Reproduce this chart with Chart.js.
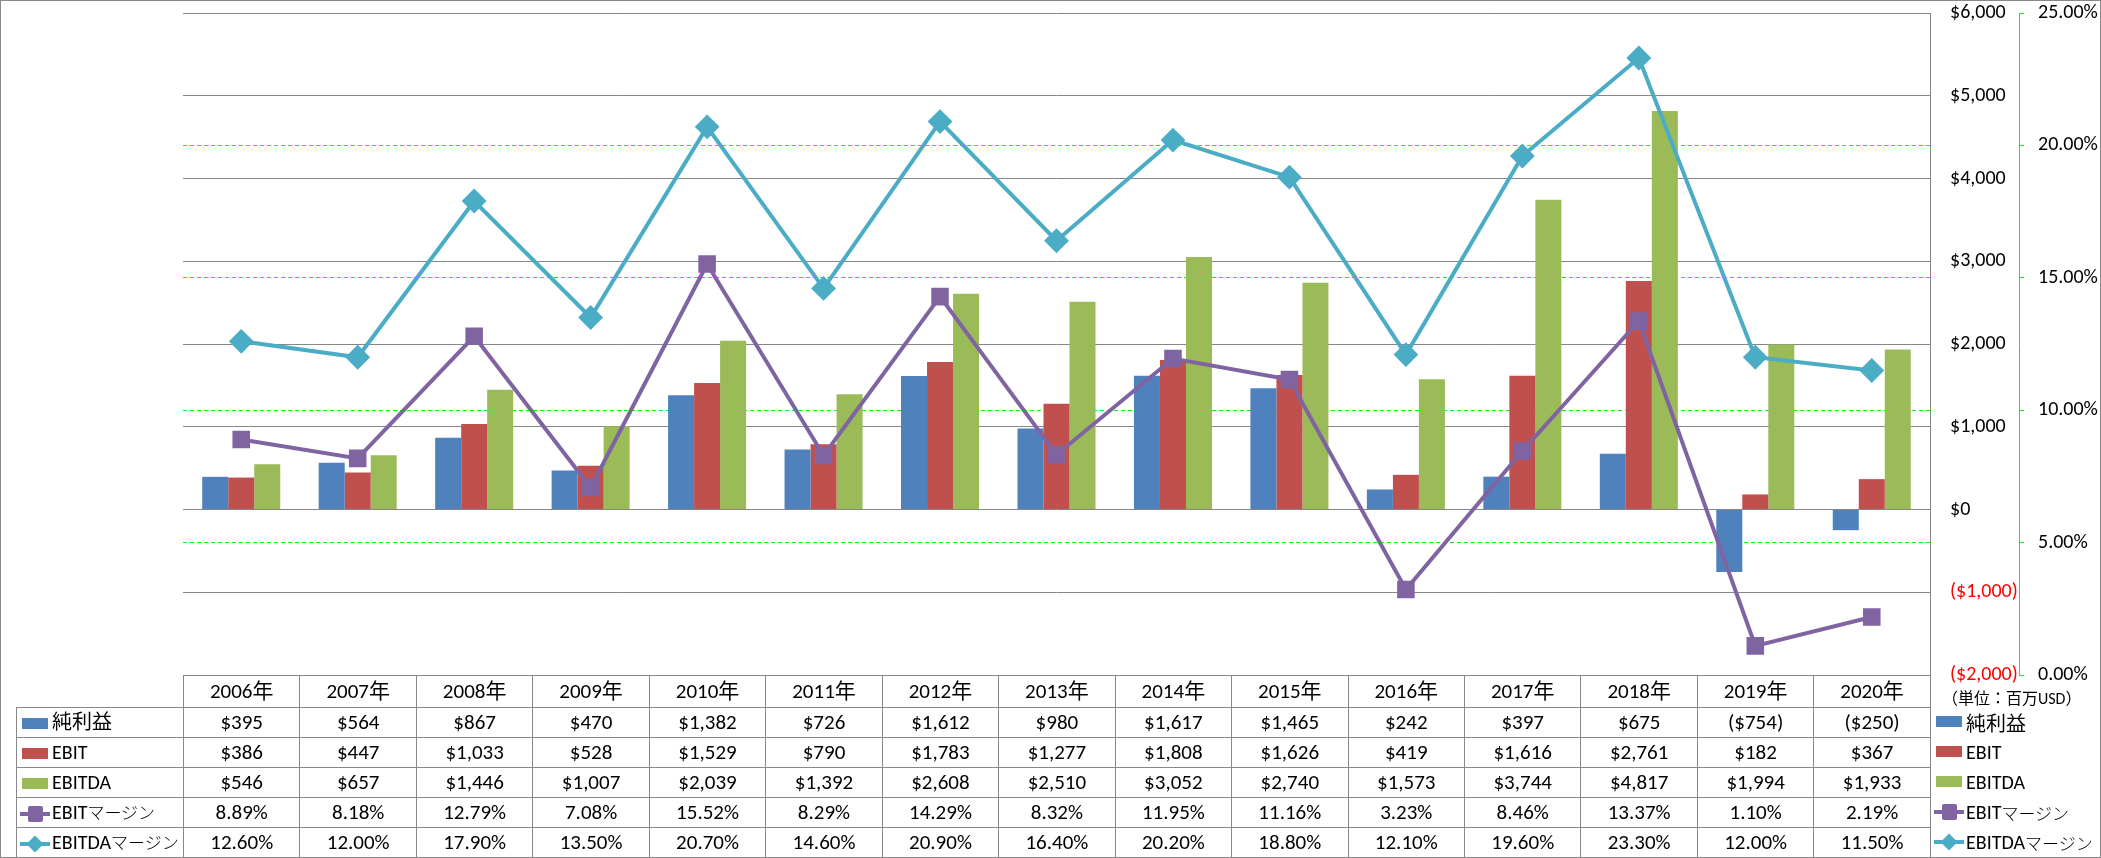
<!DOCTYPE html>
<html lang="ja">
<head>
<meta charset="utf-8">
<title>純利益・EBIT・EBITDA</title>
<script src="https://cdn.jsdelivr.net/npm/chart.js@4"></script>
<style>
  html, body { margin: 0; padding: 0; background: #fff; }
  #wrap { position: relative; width: 2101px; height: 858px; overflow: hidden;
          font-family: Carlito, Lato, "Noto Sans CJK JP", sans-serif; color: #000; }
  #chart { position: absolute; left: 0; top: 0; }
  #frame { position: absolute; left: 0; top: 0; width: 2101px; height: 858px;
           box-sizing: border-box; border: 1px solid #888; pointer-events: none; }
  #tbl { position: absolute; border-collapse: collapse; table-layout: fixed; font-size: 21px; }
  #tbl td { border: 1px solid #888; text-align: center; padding: 0; white-space: nowrap; overflow: hidden; line-height: 1; }
  #tbl td.blank { border-top: none; border-left: none; }
  #tbl td.lbl { text-align: left; padding-left: 3px; font-size: 20px; }
  #legend { position: absolute; font-size: 20px; }
  #legend div { position: absolute; left: 0; white-space: nowrap; display: flex; align-items: center; }
  #unit { position: absolute; font-size: 16px; white-space: nowrap; }
  .kana { font-size: 17px; font-weight: 300; }
  .key { display: inline-block; position: relative; width: 30px; height: 18px; margin-right: 2px; vertical-align: middle; flex: none; }
  .key .bar { position: absolute; left: 2px; top: 3px; width: 26px; height: 11px; }
  .key .ln { position: absolute; left: 0; top: 7px; width: 30px; height: 4px; }
  .key .sq { position: absolute; left: 8px; top: 1px; width: 15px; height: 16px; border-radius: 2px; }
  .key .dm { position: absolute; left: 9px; top: 3px; width: 12px; height: 12px; transform: rotate(45deg); }
</style>
</head>
<body>
<div id="wrap">
  <canvas id="chart" width="2101" height="858"></canvas>
  <table id="tbl"></table>
  <div id="unit">（単位：百万USD）</div>
  <div id="legend"></div>
  <div id="frame"></div>
</div>
<script>
const years = ['2006年', '2007年', '2008年', '2009年', '2010年', '2011年', '2012年', '2013年',
  '2014年', '2015年', '2016年', '2017年', '2018年', '2019年', '2020年'];
const netIncome = [395, 564, 867, 470, 1382, 726, 1612, 980, 1617, 1465, 242, 397, 675, -754, -250];
const ebit = [386, 447, 1033, 528, 1529, 790, 1783, 1277, 1808, 1626, 419, 1616, 2761, 182, 367];
const ebitda = [546, 657, 1446, 1007, 2039, 1392, 2608, 2510, 3052, 2740, 1573, 3744, 4817, 1994, 1933];
const ebitMargin = [8.89, 8.18, 12.79, 7.08, 15.52, 8.29, 14.29, 8.32, 11.95, 11.16, 3.23, 8.46, 13.37, 1.10, 2.19];
const ebitdaMargin = [12.60, 12.00, 17.90, 13.50, 20.70, 14.60, 20.90, 16.40, 20.20, 18.80, 12.10, 19.60, 23.30, 12.00, 11.50];

const usdTicks = { min: -2000, max: 6000, step: 1000 };
const pctTicks = { min: 0, max: 25, step: 5 };

const fmtUsd = v => v < 0 ? '($' + Math.abs(v).toLocaleString('en-US') + ')' : '$' + v.toLocaleString('en-US');
const fmtPct = v => v.toFixed(2) + '%';

const series = [
  { label: '純利益', data: netIncome, kind: 'bar', color: '#4F81BD', fmt: fmtUsd },
  { label: 'EBIT', data: ebit, kind: 'bar', color: '#C0504D', fmt: fmtUsd },
  { label: 'EBITDA', data: ebitda, kind: 'bar', color: '#9BBB59', fmt: fmtUsd },
  { label: 'EBITマージン', data: ebitMargin, kind: 'rect', color: '#8064A2', fmt: fmtPct },
  { label: 'EBITDAマージン', data: ebitdaMargin, kind: 'rectRot', color: '#4BACC6', fmt: fmtPct }
];

Chart.defaults.font.family = 'Carlito, Lato, "Noto Sans CJK JP", sans-serif';
Chart.defaults.font.size = 20;
Chart.defaults.color = '#000';

const datasets = series.map(s => s.kind === 'bar' ? {
  type: 'bar',
  label: s.label,
  data: s.data,
  backgroundColor: s.color,
  yAxisID: 'y',
  order: 2,
  categoryPercentage: 0.67,
  barPercentage: 1.0
} : {
  type: 'line',
  label: s.label,
  data: s.data,
  borderColor: s.color,
  backgroundColor: s.color,
  borderWidth: 4,
  pointStyle: s.kind,
  pointRadius: 11,
  pointBorderWidth: 2,
  pointBorderColor: s.color,
  pointBackgroundColor: s.color,
  yAxisID: 'y1',
  order: 1,
  tension: 0
});

// right-hand axes get fixed widths and no extra label padding above/below the plot
const fixAxis = w => s => { s.width = w; s.paddingTop = 0; s.paddingBottom = 0; };

const chart = new Chart(document.getElementById('chart'), {
  type: 'bar',
  data: { labels: years, datasets },
  options: {
    responsive: false,
    animation: false,
    devicePixelRatio: 1,
    layout: { padding: { left: 183, top: 13, right: 0, bottom: 183 } },
    plugins: { legend: { display: false }, tooltip: { enabled: false } },
    scales: {
      x: { display: false },
      y: {
        position: 'right',
        weight: 0,
        min: usdTicks.min,
        max: usdTicks.max,
        ticks: {
          stepSize: usdTicks.step,
          padding: 20,
          callback: v => fmtUsd(v),
          color: c => c.tick && c.tick.value < 0 ? '#FF0000' : '#000'
        },
        grid: { color: '#868686', lineWidth: 1, drawTicks: false },
        border: { color: '#868686', width: 1 },
        afterFit: fixAxis(89)
      },
      y1: {
        position: 'right',
        weight: 1,
        min: pctTicks.min,
        max: pctTicks.max,
        ticks: { stepSize: pctTicks.step, padding: 14, callback: v => fmtPct(v) },
        grid: {
          drawOnChartArea: true,
          color: c => (c.tick && (c.tick.value === pctTicks.min || c.tick.value === pctTicks.max)) ? 'rgba(0,0,0,0)' : '#00FF00',
          tickColor: '#00FF00',
          tickLength: 5,
          lineWidth: 1,
          borderDash: [5, 3],
          tickBorderDash: [5, 3]
        },
        border: { color: '#00FF00', width: 1, dash: [4, 3] },
        afterFit: fixAxis(82)
      }
    }
  }
});

// data table under the plot, columns taken from the chart's category scale
const area = chart.chartArea;
const colW = (area.right - area.left) / years.length;
const labelW = 167;
const headH = 32;
const rowH = 30;

const labelHtml = t => t.replace(/([\u30A0-\u30FF]+)/g, '<span class="kana">$1</span>');

function keyHtml(s) {
  if (s.kind === 'bar') return '<span class="key"><span class="bar" style="background:' + s.color + '"></span></span>';
  const mk = s.kind === 'rect' ? 'sq' : 'dm';
  return '<span class="key"><span class="ln" style="background:' + s.color + '"></span><span class="' + mk +
    '" style="background:' + s.color + '"></span></span>';
}

const tbl = document.getElementById('tbl');
tbl.style.left = (area.left - labelW) + 'px';
tbl.style.top = area.bottom + 'px';
let html = '<colgroup><col style="width:' + labelW + 'px">';
years.forEach(() => { html += '<col style="width:' + colW + 'px">'; });
html += '</colgroup>';
html += '<tr style="height:' + headH + 'px"><td class="blank"></td>';
years.forEach(y => { html += '<td>' + y + '</td>'; });
html += '</tr>';
series.forEach(s => {
  html += '<tr style="height:' + rowH + 'px"><td class="lbl">' + keyHtml(s) + labelHtml(s.label) + '</td>';
  s.data.forEach(v => { html += '<td>' + s.fmt(v) + '</td>'; });
  html += '</tr>';
});
tbl.innerHTML = html;
tbl.style.width = (labelW + colW * years.length) + 'px';

const unit = document.getElementById('unit');
unit.style.left = (area.right + 12) + 'px';
unit.style.top = (area.bottom + 10) + 'px';

const legend = document.getElementById('legend');
legend.style.left = (area.right + 4) + 'px';
legend.style.top = (area.bottom + headH) + 'px';
series.forEach((s, i) => {
  const d = document.createElement('div');
  d.style.top = (i * rowH) + 'px';
  d.style.height = rowH + 'px';
  d.innerHTML = keyHtml(s) + labelHtml(s.label);
  legend.appendChild(d);
});
</script>
</body>
</html>
